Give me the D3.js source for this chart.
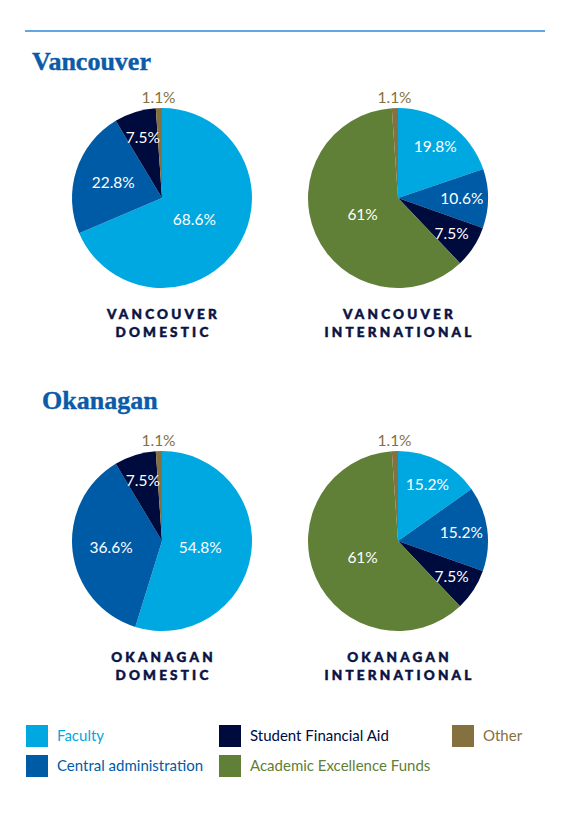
<!DOCTYPE html>
<html>
<head>
<meta charset="utf-8">
<script src="https://cdn.jsdelivr.net/npm/d3@7"></script>
<style>
  html, body { margin: 0; padding: 0; background: #fff; }
  svg { display: block; }
</style>
</head>
<body>
<svg id="chart" width="571" height="822"></svg>
<script>
// ---- data ----
const categories = ["Faculty", "Central administration", "Student Financial Aid", "Academic Excellence Funds", "Other"];
const vancouverDomestic = [68.6, 22.8, 7.5, 0, 1.1];
const vancouverInternational = [19.8, 10.6, 7.5, 61, 1.1];
const okanaganDomestic = [54.8, 36.6, 7.5, 0, 1.1];
const okanaganInternational = [15.2, 15.2, 7.5, 61, 1.1];
const regionTitles = ["Vancouver", "Okanagan"];
const chartLabels = [
  ["VANCOUVER", "DOMESTIC"],
  ["VANCOUVER", "INTERNATIONAL"],
  ["OKANAGAN", "DOMESTIC"],
  ["OKANAGAN", "INTERNATIONAL"]
];
const chartValues = [vancouverDomestic, vancouverInternational, okanaganDomestic, okanaganInternational];

// ---- styles ----
const colors = ["#00a8e1", "#005ba6", "#000b3d", "#5f8036", "#85703f"];
const svg = d3.select("#chart");
const sansFont = "Lato, 'Open Sans', sans-serif";

// top rule
svg.append("line").attr("x1", 25).attr("x2", 545).attr("y1", 31).attr("y2", 31)
  .attr("stroke", "#2f88d6").attr("stroke-width", 1.4);

// region titles
const titlePos = [{x: 32, y: 70}, {x: 42, y: 409}];
regionTitles.forEach((t, i) => {
  svg.append("text").attr("x", titlePos[i].x).attr("y", titlePos[i].y)
    .attr("font-family", "'Liberation Serif', serif").attr("font-weight", "bold")
    .attr("font-size", 26).attr("fill", "#0b5ba8")
    .attr("stroke", "#0b5ba8").attr("stroke-width", 0.4).text(t);
});

// layout of pies
const colX = d3.scalePoint().domain([0, 1]).range([162, 398]);
const rowY = d3.scalePoint().domain([0, 1]).range([198, 541]);
const R = 90;
const pie = d3.pie().sort(null).value(d => d);
const arc = d3.arc().innerRadius(0).outerRadius(R);

function labelRadius(v, idx) {
  if (idx === 4) return R + 11;
  if (v >= 40) return R * 0.43;
  if (v >= 20) return R * 0.57;
  return R * 0.71;
}

chartValues.forEach((vals, ci) => {
  const cx = colX(ci % 2), cy = rowY(Math.floor(ci / 2));
  const g = svg.append("g").attr("transform", `translate(${cx},${cy})`);
  const arcs = pie(vals);
  g.selectAll("path.slice").data(arcs.filter(d => d.data > 0)).join("path")
    .attr("class", "slice")
    .attr("d", arc)
    .attr("fill", d => colors[d.index]);

  g.selectAll("text.val").data(arcs.filter(d => d.data > 0)).join("text")
    .attr("class", "val")
    .attr("transform", d => {
      const lr = labelRadius(d.data, d.index);
      const c = d3.arc().innerRadius(lr).outerRadius(lr).centroid(d);
      return `translate(${c[0]},${c[1]})`;
    })
    .attr("text-anchor", "middle")
    .attr("dominant-baseline", "central")
    .attr("font-family", sansFont)
    .attr("font-size", 15.5)
    .attr("fill", d => d.index === 4 ? colors[4] : "#ffffff")
    .text(d => d3.format("~")(d.data) + "%");

  // sub labels
  chartLabels[ci].forEach((line, li) => {
    svg.append("text")
      .attr("x", cx + 1.5).attr("y", cy + 121 + li * 18)
      .attr("text-anchor", "middle")
      .attr("font-family", sansFont).attr("font-weight", 900)
      .attr("font-size", 13.5).attr("letter-spacing", 3.2)
      .attr("fill", "#0a1244").attr("stroke", "#0a1244").attr("stroke-width", 0.5)
      .text(line);
  });
});

// legend
const legendCol = d3.scaleOrdinal().domain([0, 1, 2, 3, 4]).range([26, 26, 219, 219, 452]);
const legendRow = d3.scaleOrdinal().domain([0, 1, 2, 3, 4]).range([725, 755, 725, 755, 725]);
const lg = svg.append("g");
categories.forEach((c, i) => {
  lg.append("rect").attr("x", legendCol(i)).attr("y", legendRow(i))
    .attr("width", 22).attr("height", 22).attr("fill", colors[i]);
  lg.append("text").attr("x", legendCol(i) + 31).attr("y", legendRow(i) + 16)
    .attr("font-family", sansFont).attr("font-size", 15)
    .attr("fill", colors[i]).text(c);
});
</script>
</body>
</html>
